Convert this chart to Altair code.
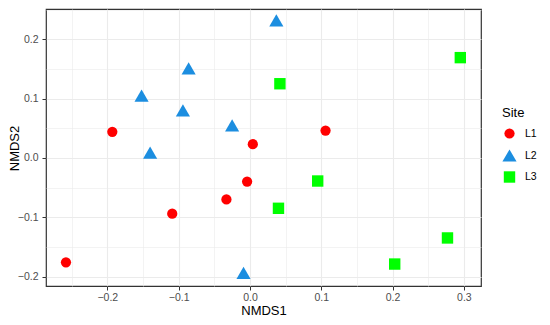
import altair as alt
import pandas as pd

site = ["L1"] * 7 + ["L2"] * 7 + ["L3"] * 6
nmds1 = [-0.258, -0.193, -0.109, -0.033, -0.004, 0.004, 0.106,
         -0.152, -0.086, -0.094, -0.025, -0.140, -0.009, 0.037,
         0.295, 0.042, 0.095, 0.040, 0.277, 0.203]
nmds2 = [-0.176, 0.044, -0.094, -0.070, -0.040, 0.023, 0.046,
         0.105, 0.151, 0.080, 0.055, 0.009, -0.194, 0.232,
         0.169, 0.125, -0.039, -0.085, -0.135, -0.179]

sites = ["L1", "L2", "L3"]
colors = ["#FF0000", "#1C8EE0", "#00FF00"]
shapes = ["circle", "triangle-up", "square"]
sizes = [105, 200, 130]

x_vals = [round(-0.25 + 0.05 * i, 2) for i in range(12)]
y_vals = [round(-0.2 + 0.05 * i, 2) for i in range(10)]

df = pd.DataFrame({"Site": site, "NMDS1": nmds1, "NMDS2": nmds2})

minor_test = "abs(round(datum.value*20)) % 2 == 1"

def make_axis(values, **kw):
    return alt.Axis(
        values=values,
        grid=True,
        gridColor="#EBEBEB",
        gridWidth={"condition": {"test": minor_test, "value": 0.6}, "value": 1.1},
        tickOpacity={"condition": {"test": minor_test, "value": 0}, "value": 1},
        labelExpr="abs(round(datum.value*20)) % 2 == 1 ? '' : format(datum.value, '.1f')",
        domain=False,
        tickColor="#333333",
        tickSize=4,
        labelColor="#4D4D4D",
        labelFontSize=10.5,
        labelFont="Liberation Sans",
        titleFont="Liberation Sans",
        titleFontSize=13,
        titleFontWeight="normal",
        titleColor="#000000",
        titleBaseline="alphabetic",
        **kw,
    )

chart = (
    alt.Chart(df)
    .mark_point(filled=True, opacity=1)
    .encode(
        x=alt.X("NMDS1:Q",
                scale=alt.Scale(domain=[-0.286, 0.324], nice=False, zero=False),
                axis=make_axis(x_vals, labelPadding=2, titleY=28)),
        y=alt.Y("NMDS2:Q",
                scale=alt.Scale(domain=[-0.216, 0.251], nice=False, zero=False),
                axis=make_axis(y_vals, labelPadding=4, titleX=-28, titleY=139, titleAngle=270)),
        color=alt.Color("Site:N",
                        scale=alt.Scale(domain=sites, range=colors),
                        legend=alt.Legend(orient="none", legendX=456, legendY=98,
                                          title="Site", titleFontSize=13,
                                          titleFontWeight="normal", titleFont="Liberation Sans",
                                          titleColor="#000000", titlePadding=8,
                                          labelFont="Liberation Sans", labelFontSize=10.5,
                                          labelColor="#000000", symbolSize=130,
                                          rowPadding=9, labelOffset=8,
                                          symbolStrokeWidth=0)),
        shape=alt.Shape("Site:N", scale=alt.Scale(domain=sites, range=shapes)),
        size=alt.Size("Site:N", scale=alt.Scale(type="ordinal", domain=sites, range=sizes),
                      legend=None),
    )
    .properties(width=435, height=277,
                autosize=alt.AutoSizeParams(type="none"),
                padding={"left": 38, "top": 1, "right": 61, "bottom": 31})
    .configure_view(stroke="#333333", strokeWidth=1.2)
)

chart.save("out.html", embed_options={"renderer": "svg", "actions": False})
